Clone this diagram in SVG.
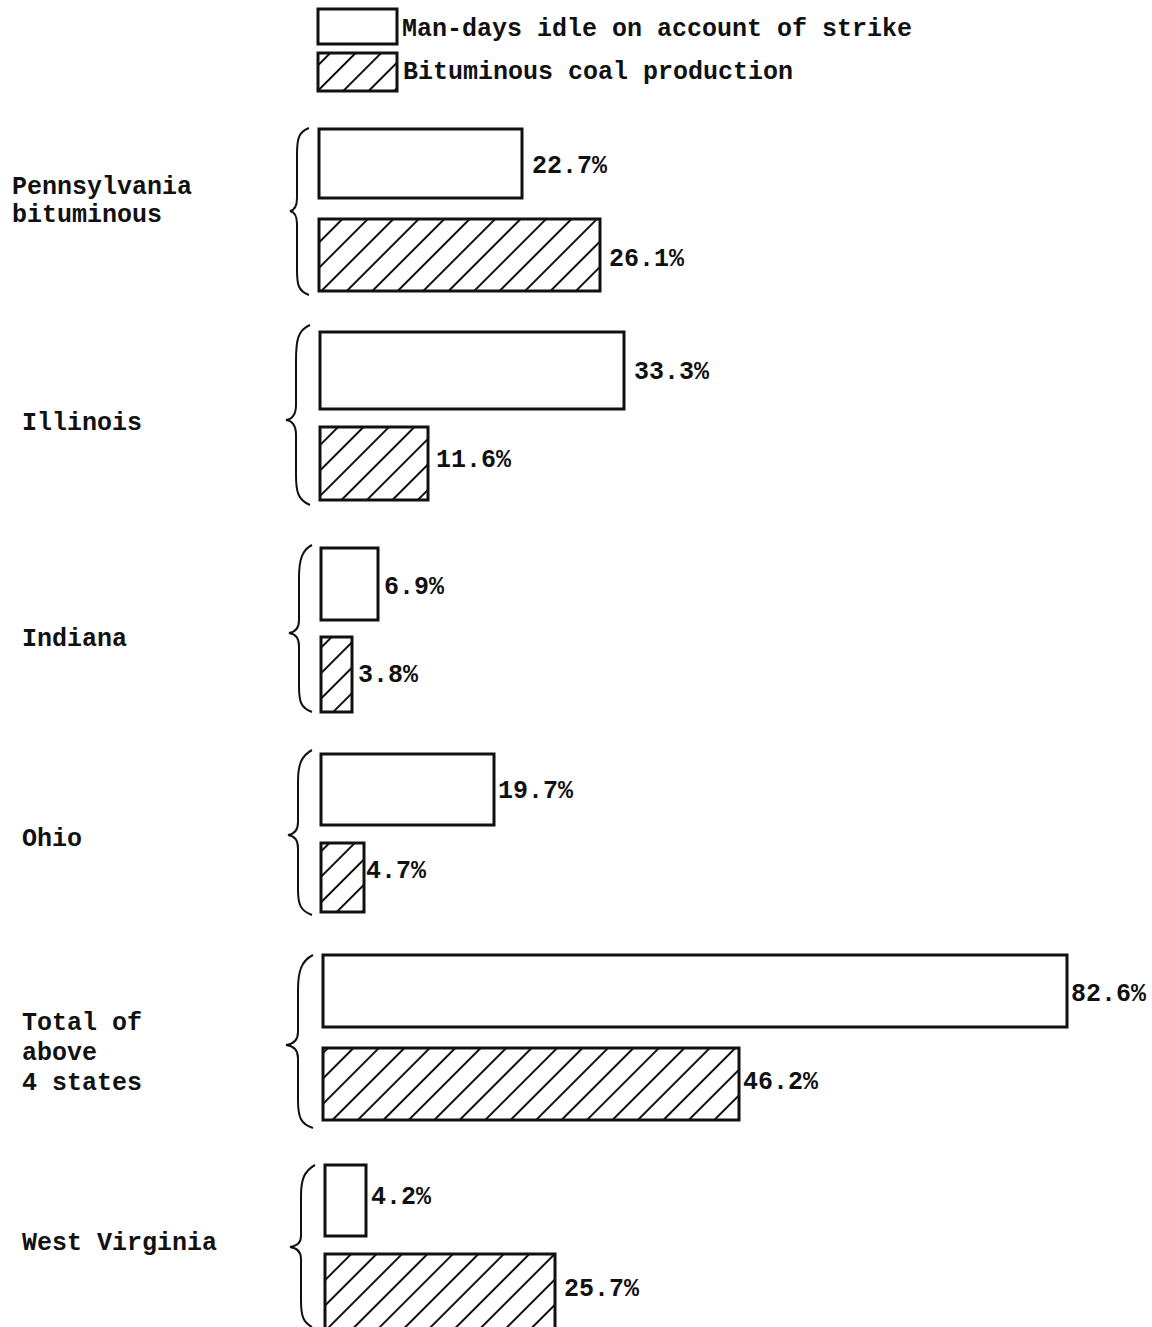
<svg xmlns="http://www.w3.org/2000/svg" width="1152" height="1327" viewBox="0 0 1152 1327">
<style>
text{font-family:"Liberation Mono","DejaVu Sans Mono",monospace;font-weight:bold;font-size:25px;fill:#111}
.w{fill:#fff;stroke:#111;stroke-width:3}
.h{fill:url(#hatch);stroke:#111;stroke-width:3}
.br{fill:none;stroke:#111;stroke-width:2}
</style>
<defs>
<pattern id="hatch" patternUnits="userSpaceOnUse" width="18" height="18" patternTransform="rotate(45)">
<rect width="18" height="18" fill="#fff"/>
<line x1="0" y1="0" x2="0" y2="18" stroke="#111" stroke-width="4"/>
</pattern>
</defs>
<rect width="1152" height="1327" fill="#fff"/>
<g id="legend">
<rect class="w" x="318" y="9" width="79" height="35"/>
<text x="402" y="36" textLength="510" lengthAdjust="spacingAndGlyphs">Man-days idle on account of strike</text>
<rect class="h" x="318" y="53" width="79" height="38"/>
<text x="403" y="79" textLength="390" lengthAdjust="spacingAndGlyphs">Bituminous coal production</text>
</g>
<g id="pennsylvania">
<text x="12" y="194">Pennsylvania</text>
<text x="12" y="222">bituminous</text>
<path class="br" d="M309,128 C298,132 297,140 297,155 L297,198 C297,206 295,210 290,211 C295,212 297,216 297,224 L297,270 C297,284 298,291 309,295"/>
<rect class="w" x="319" y="129" width="203" height="69"/>
<text x="532" y="173">22.7%</text>
<rect class="h" x="319" y="219" width="281" height="72"/>
<text x="609" y="266">26.1%</text>
</g>
<g id="illinois">
<text x="22" y="430">Illinois</text>
<path class="br" d="M310,325 C298,330 296,340 296,360 L296,405 C296,414 293,419 286,420 C293,421 296,426 296,435 L296,475 C296,492 298,500 310,505"/>
<rect class="w" x="320" y="332" width="304" height="77"/>
<text x="634" y="379">33.3%</text>
<rect class="h" x="320" y="427" width="108" height="73"/>
<text x="436" y="467">11.6%</text>
</g>
<g id="indiana">
<text x="22" y="646">Indiana</text>
<path class="br" d="M312,545 C302,550 299,560 299,578 L299,620 C299,628 296,632 289,633 C296,634 299,638 299,646 L299,686 C299,702 301,708 312,712"/>
<rect class="w" x="321" y="548" width="57" height="72"/>
<text x="384" y="594">6.9%</text>
<rect class="h" x="321" y="637" width="31" height="75"/>
<text x="358" y="682">3.8%</text>
</g>
<g id="ohio">
<text x="22" y="846">Ohio</text>
<path class="br" d="M312,750 C301,756 298,765 298,782 L298,822 C298,830 295,834 288,835 C295,836 298,840 298,848 L298,890 C298,905 301,911 312,915"/>
<rect class="w" x="321" y="754" width="173" height="71"/>
<text x="498" y="798">19.7%</text>
<rect class="h" x="321" y="843" width="43" height="69"/>
<text x="366" y="878">4.7%</text>
</g>
<g id="total">
<text x="22" y="1030">Total of</text>
<text x="22" y="1060">above</text>
<text x="22" y="1090">4 states</text>
<path class="br" d="M313,955 C301,961 298,972 298,990 L298,1032 C298,1040 294,1044 286,1045 C294,1046 298,1050 298,1058 L298,1100 C298,1118 301,1124 313,1128"/>
<rect class="w" x="323" y="955" width="744" height="72"/>
<text x="1071" y="1001">82.6%</text>
<rect class="h" x="323" y="1048" width="416" height="72"/>
<text x="743" y="1089">46.2%</text>
</g>
<g id="west-virginia">
<text x="22" y="1250">West Virginia</text>
<path class="br" d="M315,1165 C304,1171 301,1180 301,1196 L301,1236 C301,1243 297,1246 290,1247 C297,1248 301,1252 301,1259 L301,1300 C301,1316 303,1322 312,1327"/>
<rect class="w" x="325" y="1165" width="41" height="71"/>
<text x="371" y="1204">4.2%</text>
<rect class="h" x="325" y="1254" width="230" height="80"/>
<text x="564" y="1296">25.7%</text>
</g>
<g id="connectors"></g>
</svg>
